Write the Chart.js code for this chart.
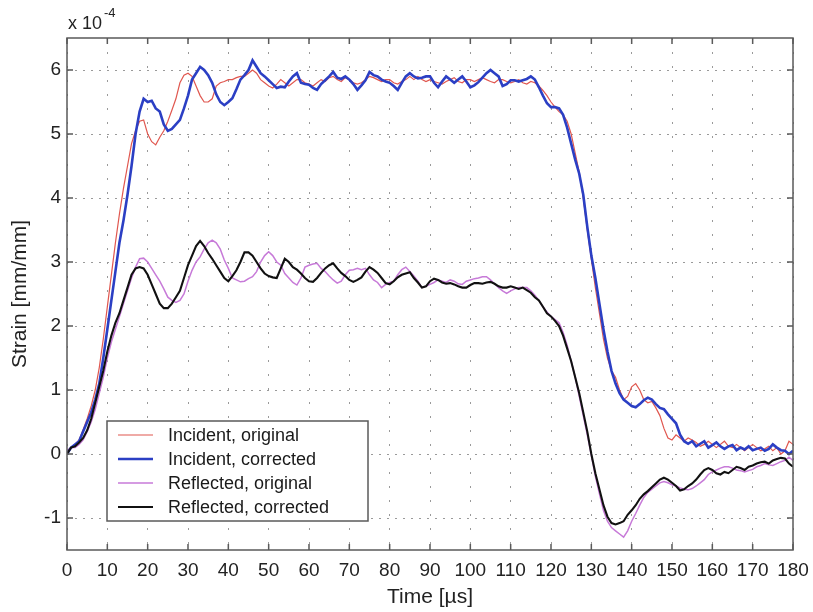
<!DOCTYPE html>
<html>
<head>
<meta charset="utf-8">
<script src="https://cdn.jsdelivr.net/npm/chart.js@4.4.0/dist/chart.umd.min.js"></script>
<style>
  body { margin: 0; background: #fff; }
  canvas { display: block; }
</style>
</head>
<body>
<canvas id="strain" width="813" height="612"></canvas>
<script>
// sampling grid of the recorded signals, one sample per microsecond (0..180 us)
const timeUs = Array.from({ length: 181 }, (_, i) => i);

// strain values in units of 1e-4 mm/mm
const incidentOriginal = [
  0.05, 0.1, 0.15, 0.22, 0.38, 0.55, 0.75, 1.0, 1.35, 1.8,
  2.3, 2.8, 3.3, 3.75, 4.15, 4.5, 4.85, 5.05, 5.2, 5.22,
  5.0, 4.88, 4.83, 4.95, 5.05, 5.2, 5.37, 5.55, 5.8, 5.92,
  5.95, 5.9, 5.75, 5.6, 5.5, 5.5, 5.55, 5.75, 5.8, 5.82,
  5.85, 5.85, 5.88, 5.9, 5.9, 5.95, 6.0, 5.95, 5.85, 5.8,
  5.75, 5.72, 5.78, 5.85, 5.8, 5.75, 5.8, 5.85, 5.85, 5.8,
  5.78, 5.75, 5.8, 5.85, 5.82, 5.88, 5.9, 5.85, 5.82, 5.88,
  5.85, 5.8, 5.78, 5.8, 5.85, 5.9, 5.88, 5.85, 5.82, 5.85,
  5.85, 5.8, 5.78, 5.82, 5.85, 5.9, 5.85, 5.9, 5.85, 5.82,
  5.85, 5.82, 5.8, 5.78, 5.82, 5.85, 5.88, 5.82, 5.8, 5.85,
  5.85, 5.82, 5.85, 5.88, 5.85, 5.82, 5.8, 5.85, 5.85, 5.82,
  5.8, 5.82, 5.85, 5.8, 5.78, 5.82, 5.8, 5.75, 5.68, 5.6,
  5.5, 5.42, 5.35, 5.3, 5.2, 5.0, 4.7, 4.4, 4.0, 3.5,
  3.05, 2.6, 2.2, 1.8, 1.5, 1.3, 1.2, 1.0, 0.85, 0.9,
  1.05, 1.1, 1.0, 0.85, 0.8, 0.82, 0.72, 0.6, 0.4, 0.25,
  0.22, 0.3, 0.25, 0.2, 0.25, 0.22, 0.18, 0.12, 0.15, 0.2,
  0.15, 0.1, 0.15, 0.2, 0.12, 0.1, 0.15, 0.1, 0.05, 0.1,
  0.15, 0.1, 0.05, 0.08, 0.12, 0.05, 0.1, 0.0, 0.05, 0.2, 0.15
];

const incidentCorrected = [
  0.0, 0.1, 0.15, 0.2, 0.35, 0.5, 0.65, 0.85, 1.1, 1.5,
  1.95, 2.4, 2.85, 3.3, 3.65, 4.05, 4.5, 5.0, 5.35, 5.55,
  5.5, 5.52, 5.4, 5.35, 5.15, 5.05, 5.08, 5.15, 5.22, 5.4,
  5.6, 5.85, 5.95, 6.05, 6.0, 5.92, 5.8, 5.62, 5.5, 5.45,
  5.5, 5.56, 5.7, 5.85, 5.92, 6.0, 6.15, 6.05, 5.95, 5.9,
  5.84, 5.78, 5.72, 5.74, 5.73, 5.82, 5.9, 5.95, 5.8, 5.78,
  5.77, 5.72, 5.69, 5.78, 5.84, 5.9, 5.97, 5.88, 5.86, 5.9,
  5.85, 5.78, 5.69, 5.76, 5.84, 5.97, 5.92, 5.9, 5.85, 5.82,
  5.8, 5.75, 5.69, 5.8, 5.9, 5.95, 5.9, 5.87, 5.88, 5.9,
  5.9, 5.8, 5.73, 5.82, 5.9, 5.85, 5.8, 5.85, 5.9, 5.82,
  5.73, 5.76, 5.81, 5.88, 5.95, 6.0, 5.95, 5.9, 5.75, 5.78,
  5.84, 5.84, 5.82, 5.84, 5.86, 5.9, 5.85, 5.73, 5.6, 5.48,
  5.42, 5.42, 5.4, 5.3, 5.1, 4.85, 4.6, 4.38, 4.05, 3.55,
  3.1, 2.75, 2.35, 1.95, 1.6, 1.3, 1.1, 0.95, 0.85, 0.8,
  0.75, 0.73, 0.78, 0.84, 0.88, 0.85, 0.78, 0.72, 0.7, 0.62,
  0.55, 0.48, 0.3, 0.2, 0.16, 0.2, 0.12, 0.16, 0.2, 0.1,
  0.14, 0.18, 0.12, 0.08, 0.12, 0.14, 0.06, 0.1, 0.07, 0.12,
  0.06, 0.08, 0.1, 0.05, 0.08, 0.15, 0.1, 0.06, 0.05, 0.0, 0.05
];

const reflectedOriginal = [
  0.05, 0.1, 0.1, 0.15, 0.22, 0.35, 0.5, 0.7, 0.95, 1.2,
  1.5, 1.75, 1.95, 2.15, 2.35, 2.55, 2.75, 2.92, 3.05, 3.06,
  3.0, 2.9, 2.8, 2.7, 2.58, 2.45, 2.4, 2.37, 2.4, 2.5,
  2.7, 2.87, 3.0, 3.08, 3.2, 3.3, 3.34, 3.3, 3.2, 3.03,
  2.9, 2.75, 2.72, 2.69, 2.7, 2.74, 2.77, 2.85, 3.0, 3.1,
  3.16, 3.1, 3.0, 2.95, 2.82, 2.75, 2.68, 2.64, 2.75, 2.92,
  2.95, 2.97, 2.98, 2.9, 2.85, 2.78, 2.72, 2.67, 2.7, 2.8,
  2.87, 2.88, 2.9, 2.88, 2.9, 2.8, 2.72, 2.68, 2.6, 2.65,
  2.68, 2.7, 2.8, 2.88, 2.92, 2.85, 2.78, 2.7, 2.6, 2.62,
  2.65, 2.68, 2.72, 2.7, 2.68, 2.72, 2.7, 2.66, 2.65, 2.7,
  2.72, 2.74, 2.75, 2.77, 2.77, 2.72, 2.66, 2.6, 2.55, 2.51,
  2.55, 2.58, 2.6, 2.6, 2.6, 2.55, 2.48, 2.4, 2.3, 2.22,
  2.15, 2.1, 2.05, 1.9, 1.7, 1.45, 1.2, 0.9, 0.6, 0.3,
  -0.02, -0.35, -0.62, -0.88, -1.05, -1.15, -1.2, -1.25, -1.3, -1.2,
  -1.05, -0.93, -0.8, -0.68, -0.6, -0.55, -0.5, -0.45, -0.43, -0.45,
  -0.48, -0.5, -0.53, -0.55, -0.56, -0.54, -0.5, -0.45, -0.4, -0.32,
  -0.28, -0.25, -0.22, -0.2, -0.2, -0.22, -0.25, -0.26, -0.28, -0.26,
  -0.24, -0.2, -0.18, -0.15, -0.17, -0.18, -0.15, -0.12, -0.1, -0.05, -0.1
];

const reflectedCorrected = [
  0.0, 0.1, 0.12, 0.18, 0.25, 0.37, 0.55, 0.8, 1.05, 1.3,
  1.6, 1.85, 2.05, 2.2, 2.4, 2.6, 2.8, 2.9, 2.92, 2.9,
  2.8, 2.65, 2.5, 2.35, 2.28, 2.28, 2.35, 2.45, 2.55, 2.75,
  2.95, 3.1, 3.25, 3.33, 3.25, 3.14, 3.05, 2.95, 2.85, 2.75,
  2.7, 2.78, 2.87, 3.0, 3.15, 3.15, 3.1, 3.0, 2.9, 2.82,
  2.78, 2.76, 2.75, 2.9, 3.05, 3.0, 2.92, 2.88, 2.82, 2.75,
  2.7, 2.69, 2.75, 2.83, 2.9, 2.95, 2.98, 2.9, 2.83, 2.78,
  2.72, 2.69, 2.72, 2.76, 2.85, 2.92, 2.88, 2.83, 2.75, 2.67,
  2.65, 2.7, 2.76, 2.8, 2.82, 2.84, 2.75, 2.68, 2.6, 2.62,
  2.7, 2.74, 2.72, 2.68, 2.66, 2.67, 2.65, 2.62, 2.6, 2.6,
  2.64, 2.67, 2.67, 2.66, 2.68, 2.69, 2.66, 2.62, 2.6, 2.6,
  2.62, 2.6, 2.58, 2.6, 2.56, 2.52, 2.45, 2.4, 2.3, 2.2,
  2.15, 2.08, 2.0, 1.85, 1.65, 1.45, 1.2, 0.95, 0.65, 0.35,
  0.0, -0.3, -0.55, -0.8, -0.98, -1.08, -1.1, -1.08, -1.05, -0.95,
  -0.88, -0.8, -0.7, -0.63, -0.58, -0.52, -0.46, -0.4, -0.37, -0.4,
  -0.45, -0.5, -0.57, -0.55, -0.5, -0.46, -0.4, -0.32, -0.25, -0.22,
  -0.25, -0.3, -0.32, -0.28, -0.3, -0.25, -0.2, -0.22, -0.25, -0.2,
  -0.18, -0.15, -0.13, -0.12, -0.15, -0.1, -0.08, -0.06, -0.07, -0.15, -0.2
];

const seriesLabels = ['Incident, original', 'Incident, corrected', 'Reflected, original', 'Reflected, corrected'];
const xTicks = [0, 10, 20, 30, 40, 50, 60, 70, 80, 90, 100, 110, 120, 130, 140, 150, 160, 170, 180];
const yTicks = [-1, 0, 1, 2, 3, 4, 5, 6];

const FONT = '"Liberation Sans", Arial, Helvetica, sans-serif';

function toPoints(values) {
  return values.map((v, i) => ({ x: timeUs[i], y: v }));
}

// frame, inward tick marks, exponent note and legend box (MATLAB look)
const matlabFrame = {
  id: 'matlabFrame',
  afterDraw(chart) {
    const ctx = chart.ctx;
    const a = chart.chartArea;
    const xs = chart.scales.x;
    const ys = chart.scales.y;
    ctx.save();
    ctx.strokeStyle = '#5a5a5a';
    ctx.lineWidth = 1.5;
    ctx.strokeRect(a.left, a.top, a.right - a.left, a.bottom - a.top);
    ctx.beginPath();
    xTicks.forEach(t => {
      const px = xs.getPixelForValue(t);
      ctx.moveTo(px, a.bottom); ctx.lineTo(px, a.bottom - 6);
      ctx.moveTo(px, a.top); ctx.lineTo(px, a.top + 6);
    });
    yTicks.forEach(t => {
      const py = ys.getPixelForValue(t);
      ctx.moveTo(a.left, py); ctx.lineTo(a.left + 6, py);
      ctx.moveTo(a.right, py); ctx.lineTo(a.right - 6, py);
    });
    ctx.stroke();

    // x 10^-4
    ctx.fillStyle = '#222';
    ctx.textBaseline = 'alphabetic';
    ctx.textAlign = 'left';
    ctx.font = '18px ' + FONT;
    ctx.fillText('x 10', 68, 29);
    ctx.font = '13px ' + FONT;
    ctx.fillText('-4', 104, 17);

    // legend
    const lx = 107, ly = 421, lw = 261, lh = 100;
    ctx.fillStyle = '#fff';
    ctx.fillRect(lx, ly, lw, lh);
    ctx.strokeStyle = '#5a5a5a';
    ctx.lineWidth = 1.5;
    ctx.strokeRect(lx, ly, lw, lh);
    ctx.font = '18px ' + FONT;
    ctx.textBaseline = 'middle';
    chart.data.datasets.forEach((ds, i) => {
      const ry = 435 + i * 24;
      ctx.strokeStyle = ds.borderColor;
      ctx.lineWidth = ds.borderWidth;
      ctx.beginPath();
      ctx.moveTo(118, ry); ctx.lineTo(153, ry);
      ctx.stroke();
      ctx.fillStyle = '#1a1a1a';
      ctx.fillText(ds.label, 168, ry + 1);
    });
    ctx.restore();
  }
};

new Chart(document.getElementById('strain'), {
  type: 'line',
  data: {
    datasets: [
      { label: seriesLabels[0], data: toPoints(incidentOriginal), borderColor: '#e0574f', borderWidth: 1.2, order: 4 },
      { label: seriesLabels[1], data: toPoints(incidentCorrected), borderColor: '#2b3fc4', borderWidth: 2.6, order: 2 },
      { label: seriesLabels[2], data: toPoints(reflectedOriginal), borderColor: '#c77ad8', borderWidth: 1.5, order: 3 },
      { label: seriesLabels[3], data: toPoints(reflectedCorrected), borderColor: '#111111', borderWidth: 2.1, order: 1 }
    ]
  },
  options: {
    responsive: false,
    animation: false,
    layout: { padding: { left: 0, right: 20, top: 38, bottom: 0 } },
    elements: { point: { radius: 0 }, line: { tension: 0 } },
    plugins: { legend: { display: false }, tooltip: { enabled: false } },
    scales: {
      x: {
        type: 'linear',
        min: 0,
        max: 180,
        afterFit(scale) { scale.height = 62; scale.paddingLeft = 0; scale.paddingRight = 0; },
        afterBuildTicks(scale) { scale.ticks = xTicks.map(v => ({ value: v })); },
        grid: { color: '#9a9a9a', lineWidth: 1, drawTicks: false },
        border: { display: false, dash: [2, 12] },
        ticks: { color: '#222', padding: 9, maxRotation: 0, font: { family: FONT, size: 19 } },
        title: { display: true, text: 'Time [\u00b5s]', color: '#222', padding: { top: 0, bottom: 2 }, font: { family: FONT, size: 21 } }
      },
      y: {
        min: -1.5,
        max: 6.5,
        afterFit(scale) { scale.width = 67; scale.paddingTop = 0; scale.paddingBottom = 0; },
        afterBuildTicks(scale) { scale.ticks = yTicks.map(v => ({ value: v })); },
        grid: { color: '#9a9a9a', lineWidth: 1, drawTicks: false },
        border: { display: false, dash: [2, 6] },
        ticks: { color: '#222', padding: 6, font: { family: FONT, size: 19 } },
        title: { display: true, text: 'Strain [mm/mm]', color: '#222', padding: { top: 8, bottom: 0 }, font: { family: FONT, size: 21 } }
      }
    }
  },
  plugins: [matlabFrame]
});
</script>
</body>
</html>
